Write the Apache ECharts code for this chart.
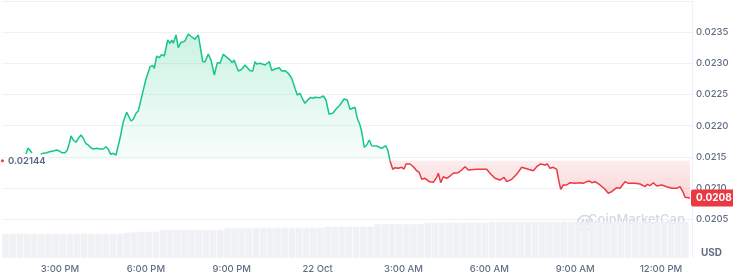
<!DOCTYPE html>
<html><head><meta charset="utf-8">
<script src="https://cdn.jsdelivr.net/npm/echarts@6/dist/echarts.min.js"></script>
<style>html,body{margin:0;padding:0;background:#fff}#c{width:733px;height:276px}</style>
</head><body><div id="c"></div>
<script>
// minutes since 12:00 PM, 21 Oct
const times = [108.7,112.9,117.1,121.3,130,
139.5,145.0,152.1,157.6,165.9,173.1,178.5,183.6,190.5,195.3,199.5,203.1,207.9,213.5,218.4,224.0,228.8,233.9,239.3,244.4,249.8,256.9,263.8,270.8,276.4,281.2,286.3,291.7,297.4,301.0,305.8,312.7,319.8,323.2,328.8,333.7,339.3,344.1,351.3,359.7,363.8,368.7,374.3,377.7,382.7,388.2,393.2,398.6,405.8,410.6,414.2,417.5,423.2,428.0,433.0,442.0,449.0,454.0,463.0,469.9,479.2,484.0,490.9,496.5,503.5,509.8,515.4,522.3,534.9,541.2,544.8,553.8,560.9,567.8,578.3,584.0,588.8,592.4,599.3,609.8,618.8,623.8,630.7,634.3,639.7,644.8,651.7,658.6,665.7,672.6,677.5,683.1,686.7,693.6,700.5,705.6,709.8,714.6,725.1,732.0,737.6,743.9,751.7,760.1,767.0,775.4,782.3,787.9,798.4,803.3,808.9,812.5,817.9,823.0,828.4,833.4,843.9,854.4,862.8,867.0,871.8,
877.5,882.3,889.2,896.3,901.2,905.4,913.7,920.7,927.8,933.2,938.3,945.2,954.2,962.6,969.7,973.1,978.1,983.5,990.7,997.6,1004.5,1015.0,1022.1,1029.0,1036.0,1053.6,1074.5,1081.4,1091.9,1102.4,1110.8,1116.5,1126.9,1137.4,1147.9,1151.3,1161.7,1172.2,1179.3,1187.7,1196.7,1201.6,1207.2,1214.1,1221.3,1224.6,1229.7,1235.1,1242.2,1249.2,1259.6,1270.1,1277.0,1284.2,1289.6,1294.6,1301.6,1312.0,1322.5,1329.4,1336.6,1347.1,1354.0,1364.5,1371.4,1385.4,1395.9,1406.4,1411.2,1416.9,1423.8,1430.9,1441.4,1451.9,1462.4,1472.8,1479.8,1486.7,1490.2,1500.7];
const prices = [0.021547,0.021643,0.021603,0.021563,null,
0.021542,0.021558,0.021568,0.021584,0.021595,0.021611,0.021595,0.021568,0.021568,0.021611,0.021719,0.021836,0.021771,0.021735,0.021799,0.021852,0.021799,0.021719,0.021691,0.021648,0.021627,0.021638,0.021627,0.021627,0.021664,0.021622,0.021542,0.021558,0.021531,0.021558,0.021799,0.022065,0.022216,0.022225,0.022076,0.022103,0.022200,0.022236,0.022466,0.022733,0.022745,0.022947,0.022969,0.022921,0.023118,0.023091,0.023145,0.023118,0.023375,0.023322,0.023375,0.023322,0.023455,0.023251,0.023331,0.023359,0.023471,0.023439,0.023386,0.023455,0.023027,0.023027,0.023150,0.023054,0.022814,0.023011,0.023001,0.023145,0.023065,0.023011,0.023054,0.022878,0.022905,0.022974,0.022883,0.022878,0.023027,0.022990,0.023001,0.022974,0.023027,0.022883,0.022910,0.022894,0.022931,0.022878,0.022883,0.022841,0.022761,0.022600,0.022493,0.022520,0.022456,0.022360,0.022424,0.022456,0.022440,0.022456,0.022450,0.022477,0.022413,0.022188,0.022200,0.022280,0.022333,0.022429,0.022413,0.022264,0.022296,0.022119,0.022012,0.021904,0.021654,0.021691,0.021771,0.021680,0.021675,0.021638,0.021680,0.021611,0.021440,
0.021302,0.021327,0.021318,0.021334,0.021306,0.021387,0.021387,0.021343,0.021279,0.021247,0.021141,0.021157,0.021103,0.021093,0.021173,0.021238,0.021087,0.021183,0.021157,0.021194,0.021238,0.021247,0.021290,0.021343,0.021290,0.021302,0.021302,0.021238,0.021157,0.021130,0.021173,0.021103,0.021141,0.021221,0.021334,0.021355,0.021302,0.021279,0.021343,0.021387,0.021371,0.021387,0.021318,0.021334,0.021302,0.021157,0.020981,0.021050,0.021050,0.021087,0.021077,0.021087,0.021077,0.021103,0.021114,0.021087,0.021103,0.021050,0.020981,0.020917,0.020943,0.021007,0.020997,0.021103,0.021077,0.021077,0.021066,0.021023,0.021061,0.021039,0.021087,0.021034,0.021050,0.021023,0.020997,0.020997,0.021023,0.020927,0.020853,0.020840];
const baseline = 0.02144;
// volume (relative units), one bar per 15 minutes
const volStart = 58.4, volStep = 15;
const volumes = [24,24,24,24,24,24,24,24,24,24,24,24,24,24,24,24,24,25,25.5,26,26,26,28,28,28,28,28,28,28,28,28,29.5,29.5,29.5,29.5,30,30,30,30,30,30,30,30,30,30,31,31,31,31,31,31,31,33.5,33.5,33.5,33.5,33.5,33.5,33.5,35,35,35,35,35,35,35,35,35,36,36,36,36,36,36,36,36,36,36,36,36,36,36,36,36,36,36,36,36,36,36,36,36,36,36,36,36];
const xMin = 58.4, xMax = 1504.9;
const tickValues = [180,360,540,720,900,1080,1260,1440];
const tickLabels = ['3:00 PM','6:00 PM','9:00 PM','22 Oct','3:00 AM','6:00 AM','9:00 AM','12:00 PM'];
const yMin = 0.0205, yMax = 0.0240, yStep = 0.0005;

const data = times.map((t,i)=>[t, prices[i]]);
let split = 0;
prices.forEach((p,i)=>{ if (p !== null && p >= baseline) split = i; });
const greenData = data.slice(0, split+1);
const redData = data.slice(split);
const volData = volumes.map((v,i)=>[volStart + volStep*(i+0.5), v]);
const lastIdx = prices.length-1;
const last = prices[lastIdx];

const GREEN = '#16c784', RED = '#ea3943', GRID = '#eff2f5', TXT = '#616e85';
const chart = echarts.init(document.getElementById('c'));
chart.setOption({
  animation: false,
  grid: [
    {left: 2, right: 41, top: 1, bottom: 56.7},
    {left: 2, right: 41, bottom: 18.3, height: 40}
  ],
  xAxis: [
    {type:'value', gridIndex:0, min:xMin, max:xMax, show:false},
    {type:'value', gridIndex:1, min:xMin, max:xMax,
     axisLine:{show:false}, axisTick:{show:false}, splitLine:{show:false},
     axisLabel:{customValues:tickValues, margin:6, color:TXT, fontSize:9.5, fontFamily:'Inter', fontWeight:500,
       formatter:(v)=>{const k=tickValues.indexOf(Math.round(v)); return k>=0?tickLabels[k]:'';}}}
  ],
  yAxis: [
    {type:'value', gridIndex:0, position:'right', min:yMin, max:yMax, interval:yStep,
     axisLine:{show:true, lineStyle:{color:GRID}}, axisTick:{show:false},
     splitLine:{lineStyle:{color:GRID, width:1}},
     axisLabel:{showMaxLabel:false, margin:4, color:TXT, fontSize:9.5, fontFamily:'Inter', fontWeight:500,
       formatter:(v)=>v.toFixed(4)}},
    {type:'value', gridIndex:1, position:'right', min:0, max:40,
     axisLine:{show:true, lineStyle:{color:GRID}}, axisTick:{show:false}, axisLabel:{show:false}, splitLine:{show:false}}
  ],
  series: [
    {type:'bar', xAxisIndex:1, yAxisIndex:1, data:volData, barWidth:6.6, itemStyle:{color:'#eff1f4'}, silent:true},
    {type:'line', xAxisIndex:0, yAxisIndex:0, data:greenData, symbol:'none', connectNulls:false, z:3,
     lineStyle:{color:GREEN, width:1.5}, itemStyle:{color:GREEN},
     areaStyle:{origin:baseline, color:new echarts.graphic.LinearGradient(0,0,0,1,[
       {offset:0,color:'rgba(22,199,132,0.32)'},{offset:1,color:'rgba(22,199,132,0.04)'}])},
     markLine:{silent:true, symbol:'none', data:[{yAxis:baseline}],
       lineStyle:{color:'#a9b1bd', type:[1,2], width:1}, label:{show:false}},
     markPoint:{silent:true, symbol:'circle', symbolSize:3, itemStyle:{color:RED},
       data:[{coord:[xMin+1, baseline]}],
       label:{show:true, position:'right', distance:2, formatter:()=>baseline.toFixed(5),
         color:'#58667e', fontSize:9.5, fontFamily:'Inter', fontWeight:600, backgroundColor:'#fff', padding:[1,2]}}
    },
    {type:'line', xAxisIndex:0, yAxisIndex:0, data:redData, symbol:'none', z:3, clip:false,
     lineStyle:{color:RED, width:1.5}, itemStyle:{color:RED},
     areaStyle:{origin:baseline, color:new echarts.graphic.LinearGradient(0,0,0,1,[
       {offset:0,color:'rgba(234,57,67,0.13)'},{offset:1,color:'rgba(234,57,67,0.30)'}])},
     markPoint:{silent:true, symbol:'rect', symbolSize:0, z:10,
       data:[{coord:[times[lastIdx], last]}],
       label:{show:true, position:'right', distance:1, formatter:()=>last.toFixed(4),
         color:'#fff', backgroundColor:RED, padding:[4,5,3,5], borderRadius:2,
         fontSize:10, fontFamily:'Inter', fontWeight:700}}
    }
  ],
  graphic: [
    {type:'circle', left:575, top:213, shape:{r:7.5}, style:{fill:'none', stroke:'#d3d9e2', lineWidth:1.6}, z:1, silent:true},
    {type:'polyline', left:578, top:217, shape:{points:[[0,8],[2.5,1],[4.5,6],[6.5,1],[9,8]]}, style:{fill:'none', stroke:'#d3d9e2', lineWidth:1.5}, z:1, silent:true},
    {type:'text', left:588, top:214, style:{text:'CoinMarketCap', fill:'#d3d9e2', font:'500 13px Inter'}, z:1, silent:true},
    {type:'text', left:701, top:248, style:{text:'USD', fill:TXT, font:'700 10px Inter'}, silent:true}
  ]
});
</script></body></html>
